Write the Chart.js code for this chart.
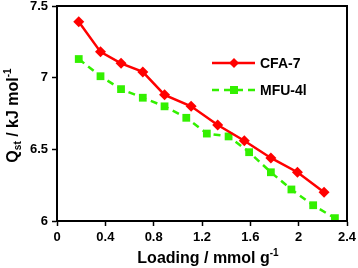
<!DOCTYPE html>
<html>
<head>
<meta charset="utf-8">
<script src="https://cdn.jsdelivr.net/npm/chart.js@4/dist/chart.umd.min.js"></script>
<style>
html,body{margin:0;padding:0;background:#fff;}
#wrap{width:358px;height:268px;position:relative;}
</style>
</head>
<body>
<div id="wrap"><canvas id="c" width="358" height="268"></canvas></div>
<script>
const cfaX = [0.18, 0.36, 0.53, 0.71, 0.89, 1.11, 1.33, 1.55, 1.77, 1.99, 2.21];
const cfaY = [7.39, 7.18, 7.10, 7.04, 6.88, 6.80, 6.67, 6.56, 6.44, 6.34, 6.20];
const mfuX = [0.18, 0.36, 0.53, 0.71, 0.89, 1.07, 1.24, 1.42, 1.59, 1.77, 1.94, 2.12, 2.30];
const mfuY = [7.13, 7.01, 6.92, 6.86, 6.80, 6.72, 6.61, 6.59, 6.48, 6.34, 6.22, 6.11, 6.02];
const seriesNames = ["CFA-7", "MFU-4l"];
const xTicks = [0, 0.4, 0.8, 1.2, 1.6, 2, 2.4];
const yTicks = [6, 6.5, 7, 7.5];

const RED = '#FF0000';
const GREEN = '#33F000';
const FONT = '"Liberation Sans", Arial, sans-serif';

const pts = (xs, ys) => xs.map((x, i) => ({x: x, y: ys[i]}));

const framePlugin = {
  id: 'frame',
  afterDatasetsDraw(chart) {
    const {ctx, chartArea: a} = chart;
    ctx.save();
    ctx.strokeStyle = '#000';
    ctx.lineWidth = 2;
    ctx.strokeRect(a.left, a.top, a.right - a.left, a.bottom - a.top);
    ctx.restore();
  },
  afterDraw(chart) {
    const {ctx, chartArea: a} = chart;
    ctx.save();
    const items = [
      {name: seriesNames[0], color: RED, dash: [], style: 'diamond', y: a.top + 57},
      {name: seriesNames[1], color: GREEN, dash: [7, 5], style: 'square', y: a.top + 84}
    ];
    const lx0 = a.left + 155, lx1 = a.left + 198, mx = a.left + 177, tx = a.left + 203;
    items.forEach(it => {
      ctx.strokeStyle = it.color;
      ctx.lineWidth = 2.5;
      ctx.setLineDash(it.dash);
      ctx.beginPath();
      ctx.moveTo(lx0, it.y);
      ctx.lineTo(lx1, it.y);
      ctx.stroke();
      ctx.setLineDash([]);
      ctx.fillStyle = it.color;
      ctx.beginPath();
      if (it.style === 'diamond') {
        ctx.moveTo(mx, it.y - 5); ctx.lineTo(mx + 5, it.y); ctx.lineTo(mx, it.y + 5); ctx.lineTo(mx - 5, it.y);
        ctx.closePath();
      } else {
        ctx.rect(mx - 4, it.y - 4, 8, 8);
      }
      ctx.fill();
      ctx.fillStyle = '#000';
      ctx.font = 'bold 14px ' + FONT;
      ctx.textAlign = 'left';
      ctx.textBaseline = 'middle';
      ctx.fillText(it.name, tx, it.y + 1);
    });

    const drawRich = (segs, cx, cy) => {
      let total = 0;
      segs.forEach(s => { ctx.font = 'bold ' + s.size + 'px ' + FONT; s.w = ctx.measureText(s.t).width; total += s.w; });
      let x = cx - total / 2;
      segs.forEach(s => {
        ctx.font = 'bold ' + s.size + 'px ' + FONT;
        ctx.textAlign = 'left';
        ctx.textBaseline = 'alphabetic';
        ctx.fillText(s.t, x, cy + (s.dy || 0));
        x += s.w;
      });
    };
    ctx.fillStyle = '#000';
    const cx = (a.left + a.right) / 2 + 6;
    drawRich([
      {t: 'Loading / mmol g', size: 16},
      {t: '-1', size: 10, dy: -7}
    ], cx, 263);

    ctx.save();
    ctx.translate(18, (a.top + a.bottom) / 2 + 2);
    ctx.rotate(-Math.PI / 2);
    drawRich([
      {t: 'Q', size: 16},
      {t: 'st', size: 10, dy: 3},
      {t: ' / kJ mol', size: 16},
      {t: '-1', size: 10, dy: -7}
    ], 0, 0);
    ctx.restore();
    ctx.restore();
  }
};

new Chart(document.getElementById('c'), {
  type: 'scatter',
  data: {
    datasets: [
      {
        label: seriesNames[0],
        data: pts(cfaX, cfaY),
        showLine: true,
        borderColor: RED,
        backgroundColor: RED,
        borderWidth: 2.5,
        pointStyle: 'rectRot',
        pointRadius: 5.5,
        pointHoverRadius: 5.5,
        pointBorderWidth: 0,
        tension: 0
      },
      {
        label: seriesNames[1],
        data: pts(mfuX, mfuY),
        showLine: true,
        borderColor: GREEN,
        backgroundColor: GREEN,
        borderWidth: 2.5,
        borderDash: [7, 5],
        pointStyle: 'rect',
        pointRadius: 5.5,
        pointHoverRadius: 5.5,
        pointBorderWidth: 0,
        tension: 0
      }
    ]
  },
  options: {
    responsive: false,
    animation: false,
    devicePixelRatio: 1,
    layout: {padding: {top: 6, right: 11, left: 0, bottom: 0}},
    plugins: {legend: {display: false}, tooltip: {enabled: false}, title: {display: false}},
    scales: {
      x: {
        type: 'linear',
        min: 0, max: 2.4,
        afterBuildTicks: s => { s.ticks = xTicks.map(v => ({value: v})); },
        afterFit: s => { s.height = 47; s.paddingLeft = 0; s.paddingRight = 0; },
        grid: {display: true, drawOnChartArea: false, drawTicks: true, tickLength: 5, tickColor: '#000', tickWidth: 1.5},
        border: {display: true, color: '#000', width: 2},
        ticks: {
          color: '#000', padding: 4, maxRotation: 0,
          font: {family: FONT, weight: 'bold', size: 13},
          callback: v => String(v)
        }
      },
      y: {
        type: 'linear',
        min: 6, max: 7.5,
        afterBuildTicks: s => { s.ticks = yTicks.map(v => ({value: v})); },
        afterFit: s => { s.width = 57; s.paddingTop = 0; s.paddingBottom = 0; },
        grid: {display: true, drawOnChartArea: false, drawTicks: true, tickLength: 5, tickColor: '#000', tickWidth: 1.5},
        border: {display: true, color: '#000', width: 2},
        ticks: {
          color: '#000', padding: 4,
          font: {family: FONT, weight: 'bold', size: 13},
          callback: v => String(v)
        }
      }
    }
  },
  plugins: [framePlugin]
});
</script>
</body>
</html>
